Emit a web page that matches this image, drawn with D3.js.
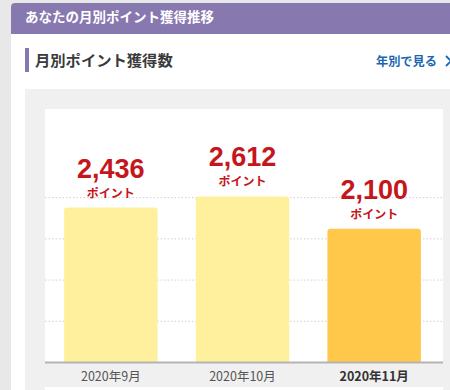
<!DOCTYPE html>
<html>
<head>
<meta charset="utf-8">
<script src="https://cdn.jsdelivr.net/npm/d3@7"></script>
<style>
  html, body { margin: 0; padding: 0; background: #e8e8e8; }
  svg { display: block; }
</style>
</head>
<body>
<svg id="chart" width="450" height="390"></svg>
<script>
// ===============================
// Dades
// ===============================
const months = ["2020年9月", "2020年10月", "2020年11月"];
const points = [2436, 2612, 2100];
const currentMonth = "2020年11月";
const gridValues = [650, 1300, 1950, 2600];

const jp = "'Noto Sans CJK JP', 'Noto Sans', sans-serif";
const num = "'Liberation Sans', Arial, sans-serif";

const svg = d3.select("#chart");

// ===============================
// Targeta i capçalera
// ===============================
svg.append("rect")
  .attr("x", 11).attr("y", 3)
  .attr("width", 460).attr("height", 400)
  .attr("rx", 4)
  .attr("fill", "white");

svg.append("path")
  .attr("d", "M11,34 V7 Q11,3 15,3 H450 V34 Z")
  .attr("fill", "#8878b0");

svg.append("text")
  .attr("x", 25).attr("y", 22)
  .text("あなたの月別ポイント獲得推移")
  .style("font-family", jp)
  .style("font-size", "13.5px")
  .style("font-weight", "bold")
  .style("fill", "white");

// subtítol
svg.append("rect")
  .attr("x", 25).attr("y", 48)
  .attr("width", 4).attr("height", 24)
  .attr("fill", "#8878b0");

svg.append("text")
  .attr("x", 35).attr("y", 66)
  .text("月別ポイント獲得数")
  .style("font-family", jp)
  .style("font-size", "15.3px")
  .style("font-weight", "bold")
  .style("fill", "#3a3a3a");

svg.append("text")
  .attr("x", 376).attr("y", 66)
  .text("年別で見る")
  .style("font-family", jp)
  .style("font-size", "12.2px")
  .style("font-weight", "bold")
  .style("fill", "#1a66b0");

svg.append("path")
  .attr("d", "M446,56 L451,61 L446,66")
  .attr("fill", "none")
  .attr("stroke", "#1a66b0")
  .attr("stroke-width", 1.8);

// ===============================
// Panell del gràfic
// ===============================
svg.append("rect")
  .attr("x", 25).attr("y", 89)
  .attr("width", 440).attr("height", 310)
  .attr("fill", "#f0f0f0");

svg.append("rect")
  .attr("x", 45).attr("y", 109)
  .attr("width", 398).attr("height", 253)
  .attr("fill", "white");

svg.append("rect")
  .attr("x", 45).attr("y", 387)
  .attr("width", 398).attr("height", 10)
  .attr("fill", "white");

const x = d3.scaleBand()
  .domain(months)
  .range([45, 440])
  .paddingInner(0.29)
  .paddingOuter(0.145);

const y = d3.scaleLinear()
  .domain([0, 3990])
  .range([362, 109]);

// línies de la graella
svg.append("g")
  .selectAll("line")
  .data(gridValues)
  .join("line")
  .attr("x1", 45).attr("x2", 443)
  .attr("y1", d => y(d) + 0.5).attr("y2", d => y(d) + 0.5)
  .attr("stroke", "#d0d0d0")
  .attr("stroke-dasharray", "1.5,2");

// barres amb cantonades superiors arrodonides
const r = 3;
svg.append("g")
  .selectAll("path")
  .data(months)
  .join("path")
  .attr("d", (m, i) => {
    const x0 = x(m), x1 = x(m) + x.bandwidth();
    const top = y(points[i]), base = y(0);
    return `M${x0},${base} V${top + r} Q${x0},${top} ${x0 + r},${top} H${x1 - r} Q${x1},${top} ${x1},${top + r} V${base} Z`;
  })
  .attr("fill", m => m === currentMonth ? "#ffc84b" : "#fff09e");

// línia base
svg.append("line")
  .attr("x1", 45).attr("x2", 443)
  .attr("y1", 362.5).attr("y2", 362.5)
  .attr("stroke", "#b4b4b4")
  .attr("stroke-width", 2);

// etiquetes de valor
const labels = svg.append("g")
  .selectAll("g")
  .data(months)
  .join("g")
  .attr("transform", (m, i) => `translate(${x(m) + x.bandwidth() / 2}, ${y(points[i])})`);

labels.append("text")
  .attr("y", -30)
  .attr("text-anchor", "middle")
  .text((m, i) => d3.format(",")(points[i]))
  .style("font-family", num)
  .style("font-size", "27px")
  .style("font-weight", "bold")
  .style("fill", "#c4161c");

labels.append("text")
  .attr("y", -10)
  .attr("text-anchor", "middle")
  .text("ポイント")
  .style("font-family", jp)
  .style("font-size", "12px")
  .style("font-weight", "bold")
  .style("fill", "#c4161c");

// eix X
svg.append("g")
  .selectAll("text")
  .data(months)
  .join("text")
  .attr("x", m => x(m) + x.bandwidth() / 2)
  .attr("y", 381)
  .attr("text-anchor", "middle")
  .text(m => m)
  .style("font-family", jp)
  .style("font-size", "12.5px")
  .style("font-weight", m => m === currentMonth ? "bold" : "normal")
  .style("fill", m => m === currentMonth ? "#333" : "#555");
</script>
</body>
</html>
